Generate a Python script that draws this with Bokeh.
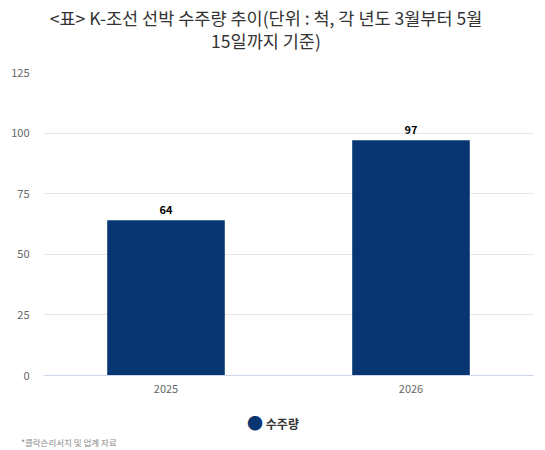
from bokeh.plotting import figure
from bokeh.models import (ColumnDataSource, FixedTicker, FactorRange, Range1d, Div)
from bokeh.layouts import column
from bokeh.embed import file_html
from bokeh.resources import INLINE

title_lines = ["<표> K-조선 선박 수주량 추이(단위 : 척, 각 년도 3월부터 5월", "15일까지 기준)"]
years = ["2025", "2026"]
orders = [64, 97]
series_name = "수주량"
source_note = "*클락슨리서치 및 업계 자료"
y_ticks = [0, 25, 50, 75, 100, 125]

FONT = "Noto Sans CJK KR"
BAR = "#073672"
W = 537


def esc(s):
    return s.replace("&", "&amp;").replace("<", "&lt;").replace(">", "&gt;")


title_div = Div(
    text=(f'<div style="position:relative;top:1px;width:522px;text-align:center;'
          f'line-height:23px;font-size:17.5px;color:#333333">'
          + "<br>".join(esc(t) for t in title_lines) + '</div>'),
    width=W, height=54,
    styles={"font-family": FONT, "width": f"{W}px", "height": "54px",
            "overflow": "visible"})

p = figure(width=W, height=341, x_range=FactorRange(*years, range_padding=0),
           y_range=Range1d(0, 125), output_backend="svg", toolbar_location=None,
           min_border_left=43, min_border_right=4, min_border_top=8,
           min_border_bottom=30)
p.outline_line_color = None

src = ColumnDataSource(dict(x=years, y=orders, lab=[str(v) for v in orders]))
p.vbar(x="x", top="y", width=0.48, source=src, color=BAR, line_color=None)
p.text(x="x", y="y", text="lab", source=src, text_align="center",
       text_baseline="bottom", y_offset=-6, text_font_size="11px",
       text_font_style="bold", text_color="#000000",
       text_font={"value": FONT})

p.yaxis.ticker = FixedTicker(ticks=y_ticks)
p.yaxis.axis_line_color = None
p.yaxis.major_tick_line_color = None
p.yaxis.minor_tick_line_color = None
p.yaxis.major_label_text_font = FONT
p.yaxis.major_label_text_font_size = "11px"
p.yaxis.major_label_text_color = "#666666"
p.yaxis.major_label_standoff = 8

p.xaxis.axis_line_color = "#ccd6eb"
p.xaxis.major_tick_line_color = None
p.xaxis.minor_tick_line_color = None
p.xaxis.major_label_text_font = FONT
p.xaxis.major_label_text_font_size = "11px"
p.xaxis.major_label_text_color = "#666666"
p.xaxis.major_label_standoff = 3

p.xgrid.grid_line_color = None
p.ygrid.grid_line_color = "#e6e6e6"
p.ygrid.ticker = FixedTicker(ticks=y_ticks)

bottom_div = Div(
    text=(f'<div style="position:relative;width:{W}px;height:43px">'
          f'<div style="position:absolute;left:0;top:3px;width:536px;height:18px;'
          f'line-height:18px;text-align:center;white-space:nowrap">'
          f'<span style="color:{BAR};font-size:16px;">&#9679;</span>&nbsp;'
          f'<span style="font-size:12px;font-weight:bold;color:#333333">{esc(series_name)}</span></div>'
          f'<div style="position:absolute;left:16px;top:27px;font-size:8.5px;color:#888888;'
          f'line-height:10px;white-space:nowrap">{esc(source_note)}</div></div>'),
    width=W, height=43,
    styles={"font-family": FONT, "width": f"{W}px", "height": "43px"})

layout = column(title_div, p, bottom_div, spacing=0)
open("out.html", "w").write(file_html(layout, INLINE))
